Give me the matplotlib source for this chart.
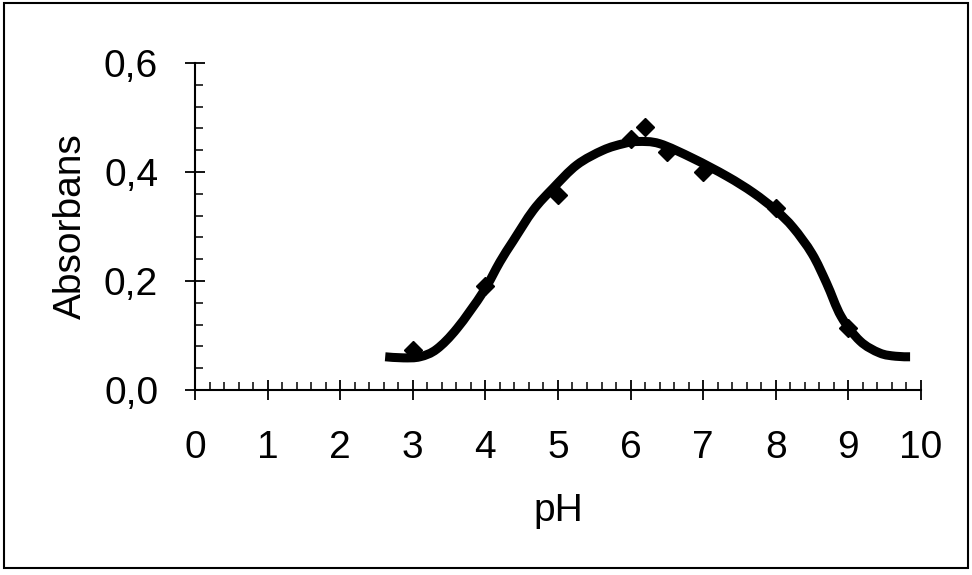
import numpy as np
import matplotlib
matplotlib.use("Agg")
import matplotlib.pyplot as plt
from matplotlib.ticker import MultipleLocator, FixedLocator
from matplotlib.patches import Rectangle, PathPatch
from matplotlib.path import Path

plt.rcParams["font.family"] = ["Liberation Sans", "DejaVu Sans"]

# measured absorbance at each pH
ph_meas = [3.0, 4.0, 5.0, 6.0, 6.2, 6.5, 7.0, 8.0, 9.0]
abs_meas = [0.073, 0.190, 0.358, 0.460, 0.483, 0.437, 0.400, 0.334, 0.114]

# fitted curve
ph_fit = [2.62, 2.87, 3.10, 3.33, 3.61, 3.97, 4.20, 4.38, 4.66, 4.93, 5.26,
          5.62, 5.90, 6.10, 6.40, 6.86, 7.33, 7.69, 8.00, 8.24, 8.50, 8.70,
          8.90, 9.16, 9.43, 9.65, 9.85]
abs_fit = [0.061, 0.059, 0.061, 0.075, 0.113, 0.180, 0.235, 0.273, 0.330,
           0.370, 0.413, 0.440, 0.452, 0.456, 0.452, 0.425, 0.392, 0.362,
           0.330, 0.298, 0.250, 0.196, 0.135, 0.090, 0.068, 0.062, 0.061]

x_ticks = [0, 1, 2, 3, 4, 5, 6, 7, 8, 9, 10]
y_ticks = [0.0, 0.2, 0.4, 0.6]
y_labels = ["0,0", "0,2", "0,4", "0,6"]


def smooth_path(xs, ys):
    # cubic Bezier segments through the points (Catmull-Rom tangents)
    p = np.column_stack([xs, ys])
    verts = [p[0]]
    codes = [Path.MOVETO]
    n = len(p)
    for i in range(n - 1):
        p0 = p[max(i - 1, 0)]
        p1 = p[i]
        p2 = p[i + 1]
        p3 = p[min(i + 2, n - 1)]
        c1 = p1 + (p2 - p0) / 6.0
        c2 = p2 - (p3 - p1) / 6.0
        verts += [c1, c2, p2]
        codes += [Path.CURVE4] * 3
    return Path(verts, codes)


fig = plt.figure(figsize=(9.72, 5.75), dpi=100)
ax = fig.add_axes([0.2006, 0.3217, 0.7469, 0.5687])

ax.add_patch(PathPatch(smooth_path(ph_fit, abs_fit), fill=False,
                       edgecolor="black", lw=6.5, capstyle="butt",
                       joinstyle="round", zorder=2))
ax.plot(ph_meas, abs_meas, ls="none", marker="D", ms=9, color="black",
        zorder=3)

ax.set_xlim(0, 10)
ax.set_ylim(0, 0.6)
for s in ["top", "right"]:
    ax.spines[s].set_visible(False)
for s in ["left", "bottom"]:
    ax.spines[s].set_linewidth(1.5)

ax.xaxis.set_major_locator(FixedLocator(x_ticks))
ax.xaxis.set_minor_locator(MultipleLocator(0.2))
ax.yaxis.set_major_locator(FixedLocator(y_ticks))
ax.yaxis.set_minor_locator(MultipleLocator(0.04))
ax.set_yticklabels(y_labels)

ax.tick_params(which="major", direction="inout", length=15, width=1.3,
               labelsize=28)
ax.tick_params(axis="y", which="major", pad=19)
ax.tick_params(axis="x", which="major", pad=21)
ax.tick_params(which="minor", direction="in", length=6, width=1.1)

ax.set_xlabel("pH", fontsize=28, labelpad=20)
ax.set_ylabel("Absorbans", fontsize=28, labelpad=11)

# frame round the whole figure
fig.patches.append(Rectangle((0.004, 0.012), 0.992, 0.983,
                             transform=fig.transFigure, fill=False,
                             lw=1.5, edgecolor="black"))

fig.savefig("out.png", dpi=100)
